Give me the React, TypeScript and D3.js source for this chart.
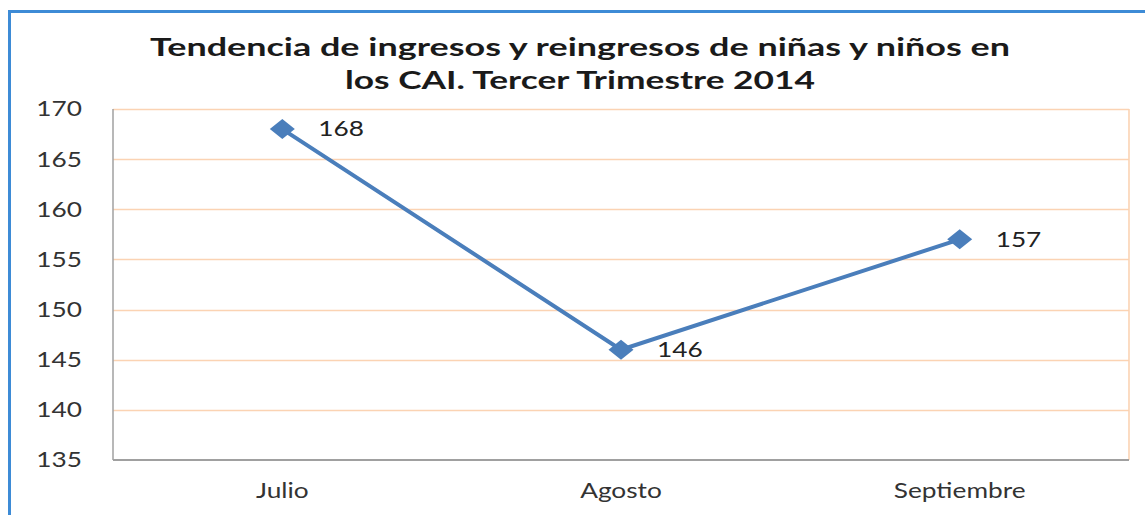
import React, { useEffect, useRef } from 'react';
import * as d3 from 'd3';

const months = ['Julio', 'Agosto', 'Septiembre'];
const ingresos = [168, 146, 157];
const yTicks = [135, 140, 145, 150, 155, 160, 165, 170];
const titleLines = [
  'Tendencia de ingresos y reingresos de niñas y niños en',
  'los CAI. Tercer Trimestre 2014',
];

const App: React.FC = () => {
  const svgRef = useRef<SVGSVGElement>(null);

  useEffect(() => {
    if (!svgRef.current) return;
    const svg = d3.select(svgRef.current);
    svg.selectAll('*').remove();

    const width = 1145;
    const height = 515;
    const margin = { top: 109, right: 16, bottom: 55, left: 113 };
    const chartWidth = width - margin.left - margin.right;
    const chartHeight = height - margin.top - margin.bottom;
    const font = 'Lato, "Open Sans", sans-serif';
    const stretch = 1.25; // the reference text is wide, stretch it horizontally

    svg.append('rect').attr('width', width).attr('height', height).attr('fill', '#fff');

    // Outer frame
    svg.append('rect')
      .attr('x', 9.5)
      .attr('y', 11.5)
      .attr('width', width + 20)
      .attr('height', height + 20)
      .attr('fill', 'none')
      .attr('stroke', '#3d8bd6')
      .attr('stroke-width', 3);

    // Title
    svg.append('g')
      .selectAll('text')
      .data(titleLines)
      .join('text')
      .attr('x', 580)
      .attr('y', (_, i) => 56 + i * 33)
      .attr('text-anchor', 'middle')
      .attr('textLength', (_, i) => (i === 0 ? 860 : 470))
      .attr('lengthAdjust', 'spacingAndGlyphs')
      .style('font-family', font)
      .style('font-size', '25px')
      .style('font-weight', '700')
      .style('fill', '#1a1a1a')
      .text(d => d);

    const xScale = d3.scaleBand().domain(months).range([0, chartWidth]);
    const yScale = d3.scaleLinear().domain([135, 170]).range([chartHeight, 0]);

    const g = svg.append('g').attr('transform', `translate(${margin.left},${margin.top})`);

    // Gridlines
    g.append('g')
      .selectAll('line')
      .data(yTicks.filter(t => t > 135))
      .join('line')
      .attr('x1', 0)
      .attr('x2', chartWidth)
      .attr('y1', d => Math.round(yScale(d)) + 0.5)
      .attr('y2', d => Math.round(yScale(d)) + 0.5)
      .attr('stroke', '#fbd3b3')
      .attr('stroke-width', 1.6);

    // Right border of plot area
    g.append('line')
      .attr('x1', chartWidth)
      .attr('x2', chartWidth)
      .attr('y1', 0)
      .attr('y2', chartHeight)
      .attr('stroke', '#fbd3b3')
      .attr('stroke-width', 1.6);

    // Axes
    g.append('line')
      .attr('x1', 0).attr('x2', 0)
      .attr('y1', 0).attr('y2', chartHeight)
      .attr('stroke', '#a0a0a0').attr('stroke-width', 1.5);
    g.append('line')
      .attr('x1', 0).attr('x2', chartWidth)
      .attr('y1', chartHeight).attr('y2', chartHeight)
      .attr('stroke', '#a0a0a0').attr('stroke-width', 2);

    // Y tick labels
    g.append('g')
      .selectAll('text')
      .data(yTicks)
      .join('text')
      .attr('transform', d => `translate(-31,${yScale(d)}) scale(${stretch},1)`)
      .attr('dy', '0.35em')
      .attr('text-anchor', 'end')
      .style('font-family', font)
      .style('font-size', '21px')
      .style('fill', '#333')
      .text(d => d);

    // X labels
    g.append('g')
      .selectAll('text')
      .data(months)
      .join('text')
      .attr('transform', d =>
        `translate(${(xScale(d) || 0) + xScale.bandwidth() / 2},${chartHeight + 38}) scale(${stretch},1)`)
      .attr('text-anchor', 'middle')
      .style('font-family', font)
      .style('font-size', '21px')
      .style('fill', '#333')
      .text(d => d);

    const points = months.map((m, i) => ({
      x: (xScale(m) || 0) + xScale.bandwidth() / 2,
      y: yScale(ingresos[i]),
      v: ingresos[i],
    }));

    const line = d3.line<{ x: number; y: number }>().x(d => d.x).y(d => d.y);
    g.append('path')
      .datum(points)
      .attr('d', line)
      .attr('fill', 'none')
      .attr('stroke', '#4a7ebb')
      .attr('stroke-width', 4);

    const diamond = d3.symbol().type(d3.symbolSquare).size(200);
    g.append('g')
      .selectAll('path')
      .data(points)
      .join('path')
      .attr('d', diamond)
      .attr('transform', d => `translate(${d.x},${d.y}) scale(${stretch},1) rotate(45)`)
      .attr('fill', '#4a7ebb');

    g.append('g')
      .selectAll('text')
      .data(points)
      .join('text')
      .attr('transform', d => `translate(${d.x + 36},${d.y}) scale(${stretch},1)`)
      .attr('dy', '0.35em')
      .style('font-family', font)
      .style('font-size', '21px')
      .style('fill', '#222')
      .text(d => d.v);
  }, []);

  return (
    <svg
      ref={svgRef}
      width={1145}
      height={515}
      style={{ position: 'absolute', left: 0, top: 0 }}
    />
  );
};

export default App;
